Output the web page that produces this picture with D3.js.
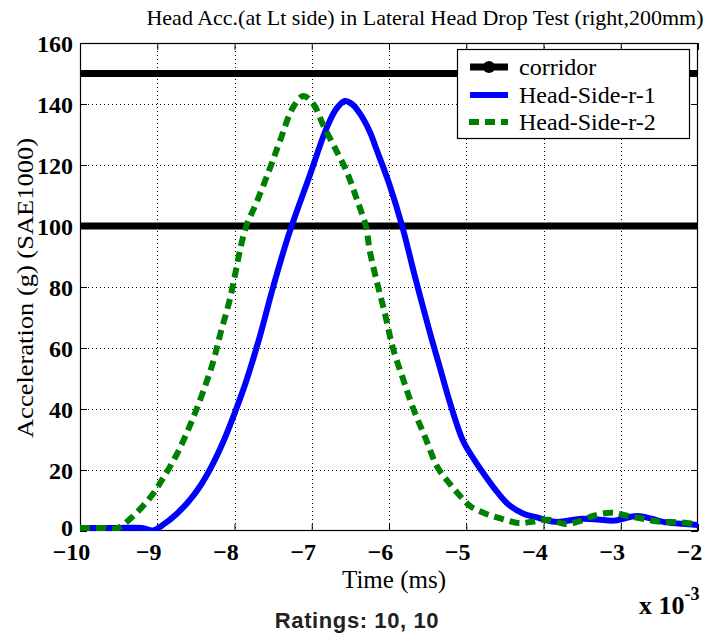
<!DOCTYPE html>
<html>
<head>
<meta charset="utf-8">
<script src="https://cdn.jsdelivr.net/npm/d3@7"></script>
<style>
  html, body { margin: 0; padding: 0; background: #fff; }
  svg { display: block; }
</style>
</head>
<body>
<svg id="chart" width="712" height="634"></svg>
<script>
// Time samples in ms (axis shows seconds x 10^-3) and head acceleration in g
const side1Time = [-10.0, -9.5, -9.2, -9.05, -8.9, -8.75, -8.6, -8.45, -8.3, -8.15, -8.0, -7.85, -7.67, -7.5, -7.3, -7.02, -6.81, -6.68, -6.57, -6.48, -6.38, -6.25, -6.16, -6.0, -5.83, -5.66, -5.47, -5.34, -5.21, -5.04, -4.9, -4.71, -4.6, -4.45, -4.25, -4.11, -3.85, -3.51, -3.3, -3.09, -2.79, -2.6, -2.45, -2.0];
const side1Acc  = [1, 1, 1, 0.2, 2.5, 5.6, 9.5, 14.5, 21, 29, 38.5, 49, 64, 80, 97, 117, 132, 138.5, 141, 140, 137, 131, 125, 114, 100, 83, 65, 53.5, 42, 29.5, 23.5, 16.5, 12.8, 8.6, 5.6, 4.6, 3, 4, 3.8, 3.4, 4.9, 4, 3, 2];

const side2Time = [-10.0, -9.7, -9.53, -9.35, -9.09, -8.92, -8.75, -8.62, -8.49, -8.36, -8.27, -8.19, -8.06, -7.86, -7.71, -7.54, -7.41, -7.24, -7.11, -6.98, -6.85, -6.68, -6.55, -6.42, -6.3, -6.25, -6.16, -6.05, -5.95, -5.82, -5.69, -5.53, -5.37, -5.21, -5.08, -4.94, -4.74, -4.54, -4.32, -4.15, -3.94, -3.72, -3.51, -3.35, -3.13, -2.92, -2.71, -2.49, -2.28, -2.0];
const side2Acc  = [1, 1, 0.8, 4, 11, 17.5, 25, 32, 40, 49, 56, 64, 76, 99, 108, 119, 128, 139, 142.6, 140, 133, 124.6, 118, 109, 100, 92, 82, 71, 60, 50, 40.4, 30.6, 20.8, 15.4, 11.5, 8, 5.6, 4, 2.6, 3, 3.7, 2.3, 3.4, 5, 6, 5, 4, 3, 2.9, 2.2];

// Corridor limits (g)
const corridorLevels = [150, 100];

const xTicks = [-10, -9, -8, -7, -6, -5, -4, -3, -2];
const yTicks = [0, 20, 40, 60, 80, 100, 120, 140, 160];

const seriesNames = ["corridor", "Head-Side-r-1", "Head-Side-r-2"];
const seriesColors = ["#000000", "#0000ff", "#008000"];

const titleText = "Head Acc.(at Lt side) in Lateral Head Drop Test (right,200mm)";
const xLabel = "Time (ms)";
const yLabel = "Acceleration (g) (SAE1000)";
const ratingsText = "Ratings: 10, 10";

const svg = d3.select("#chart");
const serif = "'Liberation Serif', 'Times New Roman', serif";
const sans = "'Liberation Sans', Arial, sans-serif";

const plot = { left: 80, right: 698, top: 43, bottom: 531 };

const x = d3.scaleLinear().domain([-10, -2]).range([plot.left, plot.right]);
const y = d3.scaleLinear().domain([0, 160]).range([plot.bottom, plot.top]);

// Title
svg.append("text")
  .attr("x", 425).attr("y", 25)
  .attr("text-anchor", "middle")
  .attr("font-family", serif).attr("font-size", 22)
  .text(titleText);

// Dotted grid
const grid = svg.append("g").attr("stroke", "#000").attr("stroke-width", 1)
  .attr("stroke-dasharray", "1,3").attr("shape-rendering", "crispEdges");
grid.selectAll("line.vx").data(xTicks.slice(1, -1)).join("line")
  .attr("x1", d => Math.round(x(d)) + 0.5).attr("x2", d => Math.round(x(d)) + 0.5)
  .attr("y1", plot.top).attr("y2", plot.bottom);
grid.selectAll("line.hy").data(yTicks.slice(1, -1)).join("line")
  .attr("x1", plot.left).attr("x2", plot.right)
  .attr("y1", d => Math.round(y(d)) + 0.5).attr("y2", d => Math.round(y(d)) + 0.5);

// Axes with inward ticks on all four sides
const tickLen = 7;
const axisBottom = d3.axisBottom(x).tickValues(xTicks).tickSizeInner(-tickLen).tickSizeOuter(0).tickPadding(12).tickFormat(d3.format("d"));
const axisTop = d3.axisTop(x).tickValues(xTicks).tickSizeInner(-tickLen).tickSizeOuter(0).tickFormat("");
const axisLeft = d3.axisLeft(y).tickValues(yTicks).tickSizeInner(-tickLen).tickSizeOuter(0).tickPadding(7).tickFormat(d3.format("d"));
const axisRight = d3.axisRight(y).tickValues(yTicks).tickSizeInner(-tickLen).tickSizeOuter(0).tickFormat("");

function styleAxis(g) {
  g.select(".domain").remove();
  g.selectAll(".tick line").attr("stroke", "#000").attr("stroke-width", 1);
  g.selectAll(".tick text")
    .attr("font-family", serif).attr("font-size", 24).attr("font-weight", "bold").attr("fill", "#000");
}

svg.append("g").attr("transform", `translate(0,${plot.bottom})`).call(axisBottom).call(styleAxis)
  .selectAll(".tick text").attr("x", -9);
svg.append("g").attr("transform", `translate(0,${plot.top})`).call(axisTop).call(styleAxis);
svg.append("g").attr("transform", `translate(${plot.left},0)`).call(axisLeft).call(styleAxis)
  .selectAll(".tick text").attr("dy", d => d === 0 ? "0.2em" : "0.34em");
svg.append("g").attr("transform", `translate(${plot.right},0)`).call(axisRight).call(styleAxis);

// Plot frame
svg.append("rect")
  .attr("x", plot.left + 0.5).attr("y", plot.top + 0.5)
  .attr("width", plot.right - plot.left - 1).attr("height", plot.bottom - plot.top - 1)
  .attr("fill", "none").attr("stroke", "#000").attr("stroke-width", 1.2);

// Clip region for data
svg.append("clipPath").attr("id", "plotClip").append("rect")
  .attr("x", plot.left).attr("y", plot.top - 4)
  .attr("width", plot.right - plot.left).attr("height", plot.bottom - plot.top + 4);

const data = svg.append("g").attr("clip-path", "url(#plotClip)");

// Corridor lines
data.selectAll("line.corridor").data(corridorLevels).join("line")
  .attr("x1", x(-10)).attr("x2", x(-2))
  .attr("y1", d => y(d)).attr("y2", d => y(d))
  .attr("stroke", seriesColors[0]).attr("stroke-width", 7);

const line = d3.line()
  .x(d => x(d[0])).y(d => y(d[1]))
  .curve(d3.curveCatmullRom.alpha(0.5));

const side1 = side1Time.map((t, i) => [t, side1Acc[i]]);
const side2 = side2Time.map((t, i) => [t, side2Acc[i]]);

data.append("path").datum(side1)
  .attr("d", line).attr("fill", "none")
  .attr("stroke", seriesColors[1]).attr("stroke-width", 6)
  .attr("stroke-linejoin", "round").attr("stroke-linecap", "butt");

data.append("path").datum(side2)
  .attr("d", line).attr("fill", "none")
  .attr("stroke", seriesColors[2]).attr("stroke-width", 6)
  .attr("stroke-dasharray", "10,6");

// Legend
const legend = svg.append("g");
legend.append("rect")
  .attr("x", 457.5).attr("y", 49.5).attr("width", 232).attr("height", 89)
  .attr("fill", "#fff").attr("stroke", "#000").attr("stroke-width", 1.2);

const legendRows = [67, 95, 122];
seriesNames.forEach((name, i) => {
  const ly = legendRows[i];
  const ln = legend.append("line")
    .attr("x1", 470).attr("x2", 508).attr("y1", ly).attr("y2", ly)
    .attr("stroke", seriesColors[i]).attr("stroke-width", i === 0 ? 7 : 6);
  if (i === 2) ln.attr("stroke-dasharray", "10,6").attr("x1", 469);
  if (i === 0) {
    legend.append("circle").attr("cx", 489).attr("cy", ly).attr("r", 6).attr("fill", "#000");
  }
  legend.append("text")
    .attr("x", 519).attr("y", ly).attr("dy", "0.35em")
    .attr("font-family", serif).attr("font-size", 24)
    .text(name);
});

// Axis labels
svg.append("text")
  .attr("x", 394).attr("y", 588)
  .attr("text-anchor", "middle")
  .attr("font-family", serif).attr("font-size", 25)
  .text(xLabel);

svg.append("text")
  .attr("transform", `translate(33,288) rotate(-90)`)
  .attr("text-anchor", "middle")
  .attr("font-family", serif).attr("font-size", 24)
  .attr("textLength", 300).attr("lengthAdjust", "spacingAndGlyphs")
  .text(yLabel);

// Axis exponent
const expo = svg.append("text")
  .attr("x", 639).attr("y", 614)
  .attr("font-family", serif).attr("font-size", 26).attr("font-weight", "bold");
expo.append("tspan").text("x 10");
expo.append("tspan").attr("dy", -14).attr("font-size", 18).text("-3");

// Ratings caption
svg.append("text")
  .attr("x", 357).attr("y", 628)
  .attr("text-anchor", "middle")
  .attr("font-family", sans).attr("font-size", 22).attr("font-weight", "bold")
  .attr("letter-spacing", 0.6)
  .attr("fill", "#222")
  .text(ratingsText);
</script>
</body>
</html>
